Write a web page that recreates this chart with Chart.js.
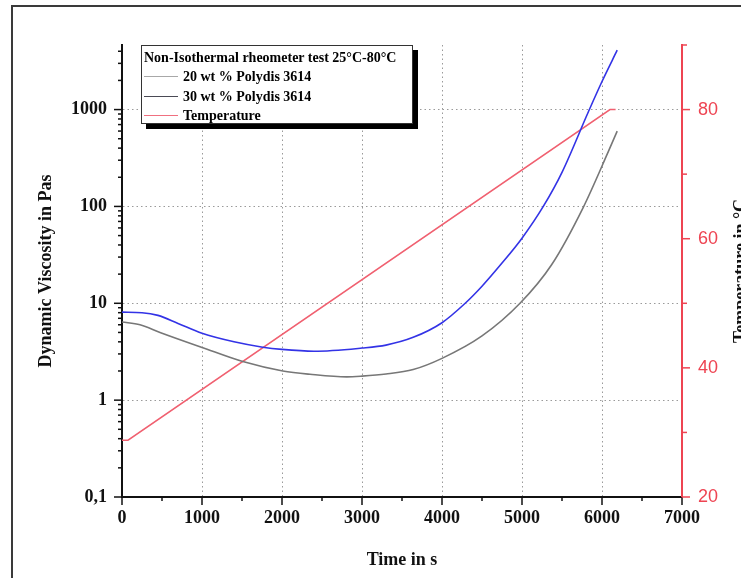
<!DOCTYPE html>
<html>
<head>
<meta charset="utf-8">
<script src="https://cdn.jsdelivr.net/npm/chart.js@4.4.1/dist/chart.umd.min.js"></script>
<style>
  html, body { margin:0; padding:0; background:#fff; overflow:hidden; }
  #wrap { position:relative; width:741px; height:578px; }
  #frame { position:absolute; left:11px; top:5px; width:800px; height:700px; border:2px solid #3a3a3a; box-sizing:border-box; pointer-events:none; }
  #legend { position:absolute; left:141px; top:45px; width:272px; height:79px; box-sizing:border-box;
    border:1px solid #333; background:#fff; box-shadow:5px 5px 0 #000;
    font-family:"Liberation Serif","Times New Roman",serif; font-weight:bold; font-size:14px; color:#000; }
  #legend .lt { position:absolute; left:2px; top:4px; white-space:nowrap; }
  #legend .li { position:absolute; left:2px; white-space:nowrap; }
  #legend .sw { display:inline-block; width:34px; height:0; border-top:1.5px solid; vertical-align:middle; margin-right:5px; position:relative; top:-1px; }
</style>
</head>
<body>
<div id="wrap">
  <canvas id="c" width="741" height="578"></canvas>
  <div id="legend">
    <div class="lt">Non-Isothermal rheometer test 25°C-80°C</div>
    <div class="li" style="top:23px"><span class="sw" style="border-color:#a8a8a8"></span>20 wt % Polydis 3614</div>
    <div class="li" style="top:43px"><span class="sw" style="border-color:#4a4a55"></span>30 wt % Polydis 3614</div>
    <div class="li" style="top:62px"><span class="sw" style="border-color:#f07080"></span>Temperature</div>
  </div>
  <div id="frame"></div>
</div>
<script>
// ---- data ----
const seriesNames = ["20 wt % Polydis 3614", "30 wt % Polydis 3614", "Temperature"];

// 30 wt % (blue curve)
const time30 = [0, 250, 450, 700, 1000, 1400, 1760, 2000, 2400, 3000, 3300, 3640, 4000, 4290, 4500, 4750, 5000, 5266, 5500, 5830, 6000, 6190];
const visc30 = [8.1, 8.0, 7.5, 6.2, 4.9, 4.0, 3.52, 3.34, 3.2, 3.45, 3.7, 4.45, 6.3, 10, 15, 26, 47, 100, 225, 950, 1950, 4100];

// 20 wt % (grey curve)
const time20 = [0, 225, 475, 1000, 1510, 2010, 2350, 2810, 3000, 3300, 3640, 4000, 4500, 4975, 5370, 5766, 6080, 6190];
const visc20 = [6.4, 6.0, 5.0, 3.5, 2.5, 2.0, 1.85, 1.74, 1.77, 1.86, 2.07, 2.7, 4.6, 10, 25, 98, 370, 600];

// temperature (red)
const timeT = [0, 75, 6100, 6170];
const tempT = [28.8, 28.8, 80, 80];

// tick labels
const xTicks = [0, 1000, 2000, 3000, 4000, 5000, 6000, 7000];
const viscTicks = [0.1, 1, 10, 100, 1000];
const tempTicks = [20, 40, 60, 80];

// ---- chart ----
const serif = '"Liberation Serif","Times New Roman",serif';
const sans = '"Liberation Sans",Arial,sans-serif';
const RED = '#ee4452';
const toXY = (xs, ys) => xs.map((v, i) => ({x: v, y: ys[i]}));

const tickPlugin = {
  id: 'tickMarks',
  afterDraw(chart) {
    const {ctx, scales: {x, y, y2}} = chart;
    const line = (x1, y1, x2, y2_) => { ctx.beginPath(); ctx.moveTo(x1, y1); ctx.lineTo(x2, y2_); ctx.stroke(); };
    ctx.save();
    ctx.lineWidth = 1.5;
    ctx.strokeStyle = '#111';
    for (let v = x.min; v <= x.max; v += 500) {
      const p = x.getPixelForValue(v);
      const major = xTicks.includes(v);
      line(p, x.top, p, x.top + (major ? 8 : 4));
    }
    for (let d = 0.1; d < y.max; d *= 10) {
      for (let m = 1; m <= 9; m++) {
        const v = d * m;
        if (v > y.max * 1.0001) break;
        const p = y.getPixelForValue(v);
        line(y.right, p, y.right - (m === 1 ? 8 : 4), p);
      }
    }
    ctx.strokeStyle = RED;
    for (let v = y2.min; v <= y2.max; v += 10) {
      const p = y2.getPixelForValue(v);
      const major = tempTicks.includes(v);
      line(y2.left, p, y2.left + (major ? 8 : 5), p);
    }
    ctx.fillStyle = '#111';
    ctx.font = 'bold 18px ' + serif;
    ctx.translate(732, (chart.chartArea.top + chart.chartArea.bottom) / 2);
    ctx.rotate(-Math.PI / 2);
    ctx.textAlign = 'center';
    ctx.textBaseline = 'top';
    ctx.fillText('Temperature in °C', 0, 0);
    ctx.restore();
  }
};

new Chart(document.getElementById('c'), {
  type: 'line',
  data: {
    datasets: [
      { label: seriesNames[0], data: toXY(time20, visc20), yAxisID: 'y', borderColor: '#777777', borderWidth: 1.6, pointRadius: 0, cubicInterpolationMode: 'monotone', fill: false },
      { label: seriesNames[1], data: toXY(time30, visc30), yAxisID: 'y', borderColor: '#3333e6', borderWidth: 1.6, pointRadius: 0, cubicInterpolationMode: 'monotone', fill: false },
      { label: seriesNames[2], data: toXY(timeT, tempT), yAxisID: 'y2', borderColor: '#f06070', borderWidth: 1.5, pointRadius: 0, tension: 0, fill: false }
    ]
  },
  options: {
    responsive: false,
    animation: false,
    devicePixelRatio: 1,
    layout: { padding: { top: 45, left: 0, right: 0, bottom: 0 } },
    plugins: { legend: { display: false }, tooltip: { enabled: false } },
    scales: {
      x: {
        type: 'linear', min: 0, max: 7000,
        afterFit: s => { s.height = 81; },
        afterBuildTicks: s => { s.ticks = xTicks.map(v => ({value: v})); },
        ticks: { font: { family: serif, size: 18, weight: 'bold' }, color: '#111', padding: 11, maxRotation: 0,
          callback: v => String(v) },
        grid: { drawTicks: false, color: c => (c.tick && (c.tick.value === 0 || c.tick.value === 7000)) ? 'rgba(0,0,0,0)' : '#9a9a9a', lineWidth: 1 },
        border: { display: true, color: '#111', width: 2, dash: [1.5, 3] },
        title: { display: true, text: 'Time in s', font: { family: serif, size: 18, weight: 'bold' }, color: '#111', padding: { top: 0, bottom: 7 } }
      },
      y: {
        type: 'logarithmic', position: 'left', min: 0.1, max: 4642,
        afterFit: s => { s.width = 122; },
        afterBuildTicks: s => { s.ticks = viscTicks.map(v => ({value: v})); },
        ticks: { font: { family: serif, size: 18, weight: 'bold' }, color: '#111', padding: 15,
          callback: v => (v === 0.1 ? '0,1' : String(v)) },
        grid: { drawTicks: false, color: c => (c.tick && c.tick.value === 0.1) ? 'rgba(0,0,0,0)' : '#9a9a9a', lineWidth: 1 },
        border: { display: true, color: '#111', width: 2, dash: [1.5, 3] },
        title: { display: true, text: 'Dynamic Viscosity in Pas', font: { family: serif, size: 18, weight: 'bold' }, color: '#111', padding: { top: 36, bottom: 0 } }
      },
      y2: {
        type: 'linear', position: 'right', min: 20, max: 90,
        afterFit: s => { s.width = 59; },
        afterBuildTicks: s => { s.ticks = tempTicks.map(v => ({value: v})); },
        ticks: { font: { family: sans, size: 18 }, color: RED, padding: 16 },
        grid: { drawTicks: false, drawOnChartArea: false },
        border: { display: true, color: RED, width: 2 }
      }
    }
  },
  plugins: [tickPlugin]
});
</script>
</body>
</html>
